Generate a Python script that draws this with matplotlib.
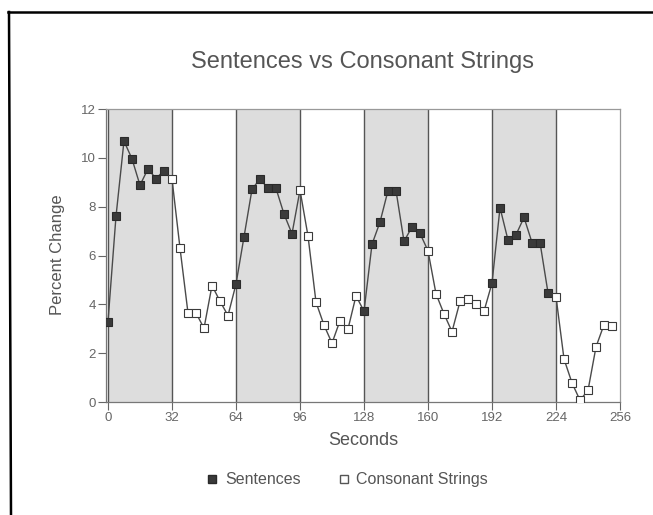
import numpy as np
import matplotlib
matplotlib.use('Agg')
import matplotlib.pyplot as plt
from matplotlib.lines import Line2D

plt.rcParams['font.family'] = ['Liberation Sans', 'DejaVu Sans']

# Scan times (seconds) and percent signal change
seconds = np.arange(0, 256, 4)
percent_change = [
    3.29, 7.60, 10.69, 9.96, 8.88, 9.55, 9.15, 9.48,
    9.14, 6.31, 3.65, 3.65, 3.02, 4.77, 4.13, 3.54,
    4.83, 6.76, 8.71, 9.14, 8.75, 8.75, 7.70, 6.89,
    8.68, 6.80, 4.09, 3.15, 2.41, 3.33, 2.99, 4.35,
    3.72, 6.46, 7.37, 8.66, 8.66, 6.58, 7.17, 6.91,
    6.19, 4.43, 3.61, 2.88, 4.12, 4.20, 4.02, 3.72,
    4.87, 7.96, 6.63, 6.85, 7.56, 6.53, 6.53, 4.47,
    4.31, 1.76, 0.78, 0.07, 0.48, 2.26, 3.17, 3.13,
]
# periods when sentences were shown (shaded)
sentence_blocks = [(0, 32), (64, 96), (128, 160), (192, 224)]
x_ticks = [0, 32, 64, 96, 128, 160, 192, 224, 256]
y_ticks = [0, 2, 4, 6, 8, 10, 12]

text_col = '#555555'
mark_col = '#3a3a3a'

fig = plt.figure(figsize=(6.53, 5.15), dpi=100)
ax = fig.add_axes([0.1623, 0.2194, 0.7872, 0.5689])

for start, end in sentence_blocks:
    ax.axvspan(start, end, facecolor='#dddddd', edgecolor='none', zorder=0)
    ax.axvline(start, color='#555555', lw=1, zorder=1)
    ax.axvline(end, color='#555555', lw=1, zorder=1)

t = np.asarray(seconds)
y = np.asarray(percent_change)
is_sent = np.zeros(len(t), dtype=bool)
for start, end in sentence_blocks:
    is_sent |= (t >= start) & (t < end)

ax.plot(t, y, '-', color='#4a4a4a', lw=1, zorder=2)
ax.plot(t[is_sent], y[is_sent], 's', ms=6.3, mfc=mark_col, mec='#2a2a2a', mew=0.8,
        ls='none', zorder=3)
ax.plot(t[~is_sent], y[~is_sent], 's', ms=6.3, mfc='white', mec='#3a3a3a', mew=0.8,
        ls='none', zorder=3)

ax.set_xlim(-1, 256)
ax.set_ylim(0, 12)
ax.set_xticks(x_ticks)
ax.set_yticks(y_ticks)
ax.tick_params(direction='out', length=5.5, width=0.8, color='#666666',
               labelcolor='#666666', labelsize=9.5, pad=2)
for sp in ax.spines.values():
    sp.set_color('#999999')
    sp.set_linewidth(0.9)
ax.spines['bottom'].set_color('#777777')
ax.spines['left'].set_color('#777777')

fig.text(0.555, 0.8796, 'Sentences vs Consonant Strings', ha='center', va='center',
         fontsize=17, color=text_col)
fig.text(0.556, 0.1437, 'Seconds', ha='center', va='center', fontsize=13, color=text_col)
fig.text(0.088, 0.505, 'Percent Change', ha='center', va='center', rotation=90,
         fontsize=12, color=text_col)

handles = [
    Line2D([], [], marker='s', ls='none', ms=6, mfc=mark_col, mec='#2a2a2a', label='Sentences'),
    Line2D([], [], marker='s', ls='none', ms=6, mfc='white', mec='#555555', label='Consonant Strings'),
]
leg = fig.legend(handles=handles, loc='center', bbox_to_anchor=(0.53, 0.068), ncol=2,
                 frameon=False, fontsize=11.5, handletextpad=0.3, columnspacing=2.2,
                 handlelength=1.0)
for txt in leg.get_texts():
    txt.set_color(text_col)

# outer page border (top and left edges only)
fig.add_artist(Line2D([8 / 653, 1.0], [1 - 12 / 515, 1 - 12 / 515], transform=fig.transFigure,
                      color='black', lw=1.8))
fig.add_artist(Line2D([9 / 653, 11 / 653], [1 - 12 / 515, 0.0], transform=fig.transFigure,
                      color='black', lw=1.8))

fig.savefig('out.png', dpi=100)
